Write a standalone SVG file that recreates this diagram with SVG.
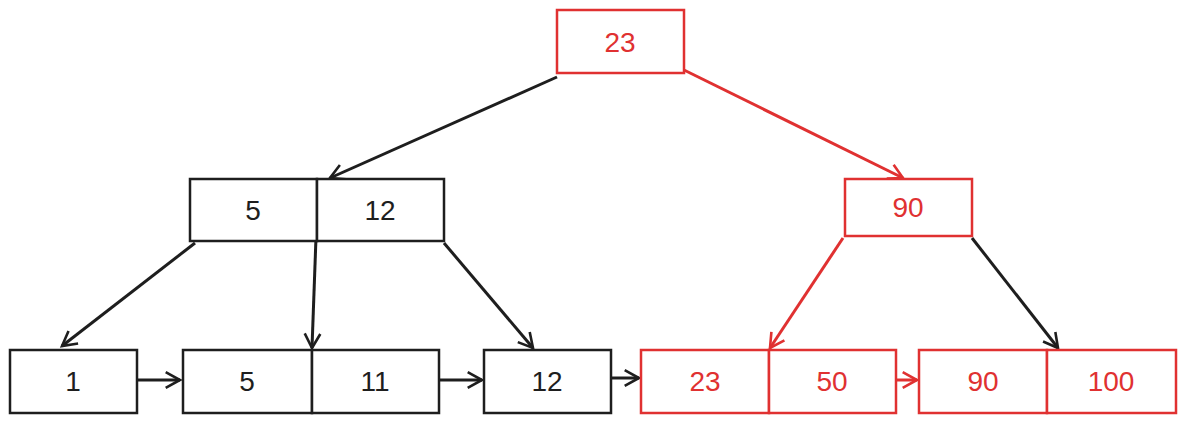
<svg xmlns="http://www.w3.org/2000/svg" width="1185" height="423" viewBox="0 0 1185 423">
<style>
.b rect{fill:#fff;stroke:#1e1e1e;stroke-width:2.5}
.r rect{fill:#fff;stroke:#e03131;stroke-width:2.5}
text{font-family:"Liberation Sans",sans-serif;font-size:28px;text-anchor:middle;dominant-baseline:central}
.b text{fill:#1e1e1e}.r text{fill:#e03131}
.cb{stroke:#1e1e1e;stroke-width:3;fill:none;marker-end:url(#ab)}
.cr{stroke:#e03131;stroke-width:3;fill:none;marker-end:url(#ar)}
</style>
<defs>
<marker id="ab" viewBox="0 0 10 10" refX="9" refY="5" markerWidth="13" markerHeight="13" orient="auto" markerUnits="userSpaceOnUse" style="overflow:visible"><path d="M-2,-1 L9,5 L-2,11" fill="none" stroke="#1e1e1e" stroke-width="2"/></marker>
<marker id="ar" viewBox="0 0 10 10" refX="9" refY="5" markerWidth="13" markerHeight="13" orient="auto" markerUnits="userSpaceOnUse" style="overflow:visible"><path d="M-2,-1 L9,5 L-2,11" fill="none" stroke="#e03131" stroke-width="2"/></marker>
</defs>
<g id="connectors">
<path class="cb" d="M557,77 L330,178"/>
<path class="cr" d="M684,70 L903,178"/>
<path class="cb" d="M195,243 L62,346"/>
<path class="cb" d="M318,182 L312,348"/>
<path class="cb" d="M444,243 L533,348"/>
<path class="cr" d="M843,238 L770,348"/>
<path class="cb" d="M972,238 L1058,348"/>
<path class="cb" d="M137,380 L180,380"/>
<path class="cb" d="M439,380 L482,380"/>
<path class="cb" d="M611,378 L639,378"/>
<path class="cr" d="M896,380 L917,380"/>
</g>
<g id="root" class="r"><rect x="557" y="10" width="127" height="63"/><text x="620" y="42">23</text></g>
<g id="n5_12" class="b"><rect x="190" y="179" width="127" height="62"/><text x="253" y="210">5</text><rect x="317" y="179" width="127" height="62"/><text x="380" y="210">12</text></g>
<g id="n90" class="r"><rect x="845" y="179" width="127" height="57"/><text x="908" y="207">90</text></g>
<g id="l1" class="b"><rect x="10" y="350" width="127" height="63"/><text x="73" y="381">1</text></g>
<g id="l5_11" class="b"><rect x="183" y="350" width="129" height="63"/><text x="247" y="381">5</text><rect x="312" y="350" width="127" height="63"/><text x="375" y="381">11</text></g>
<g id="l12" class="b"><rect x="484" y="350" width="127" height="63"/><text x="547" y="381">12</text></g>
<g id="l23_50" class="r"><rect x="641" y="350" width="128" height="63"/><text x="705" y="381">23</text><rect x="769" y="350" width="127" height="63"/><text x="832" y="381">50</text></g>
<g id="l90_100" class="r"><rect x="919" y="350" width="128" height="63"/><text x="983" y="381">90</text><rect x="1047" y="350" width="129" height="63"/><text x="1111" y="381">100</text></g>
</svg>
